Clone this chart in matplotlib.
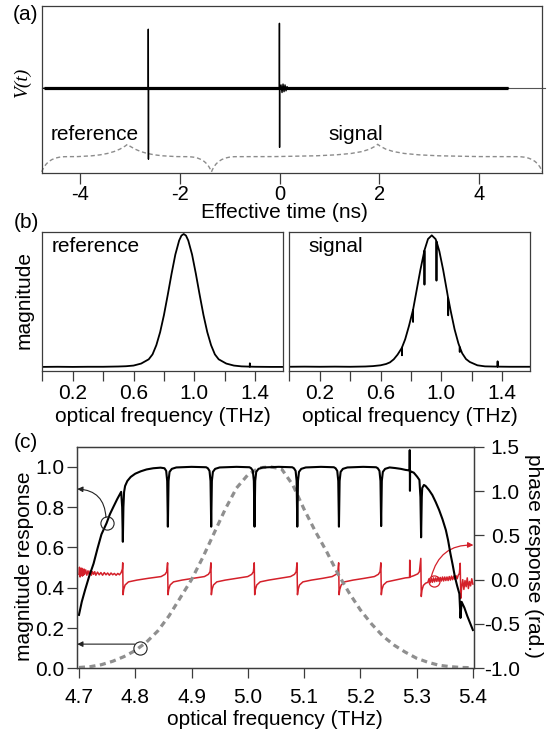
import matplotlib
matplotlib.use('Agg')
import matplotlib.pyplot as plt
from matplotlib.path import Path
from matplotlib.patches import PathPatch

plt.rcParams['font.family'] = ['Liberation Sans', 'DejaVu Sans']
plt.rcParams['axes.unicode_minus'] = False

# ---------------- data ----------------
# (a) time trace: (time ns, V arb.)
trace_pts = [(-4.73, 0.0), (-2.634, 0.0), (-2.632, 0.70), (-2.629, -0.84), (-2.627, 0.0),
             (-0.004, 0.0), (-0.002, 0.77), (0.001, -0.70), (0.003, 0.0), (0.03, 0.04),
             (0.05, -0.05), (0.07, 0.05), (0.09, -0.04), (0.11, 0.04), (0.13, -0.03),
             (0.15, 0.02), (0.17, 0.0), (4.59, 0.0)]
time_ticks = [-4, -2, 0, 2, 4]
time_ticklabels = ['-4', '-2', '0', '2', '4']
brace_names = ['reference', 'signal']
brace_start = [-4.77, -1.365]
brace_end = [-1.365, 5.27]
brace_apex = [-3.05, 1.97]

# (b) spectra: (THz, magnitude)
ref_pts = [(0.0, 0.003), (0.1, 0.004), (0.2, 0.003), (0.3, 0.004), (0.4, 0.004), (0.5, 0.006),
           (0.55, 0.008), (0.6, 0.013), (0.65, 0.028), (0.7, 0.06), (0.725, 0.097), (0.75, 0.166),
           (0.775, 0.264), (0.8, 0.392), (0.825, 0.543), (0.85, 0.701), (0.875, 0.846), (0.9, 0.951),
           (0.915, 0.988), (0.93, 1.0), (0.945, 0.988), (0.96, 0.951), (0.985, 0.846), (1.01, 0.701),
           (1.035, 0.543), (1.06, 0.392), (1.085, 0.264), (1.11, 0.166), (1.135, 0.097), (1.16, 0.06),
           (1.21, 0.028), (1.26, 0.013), (1.31, 0.007), (1.3645, 0.005), (1.365, 0.03), (1.3655, 0.005),
           (1.4, 0.004), (1.5, 0.003), (1.585, 0.003)]
sig_pts = [(0.0, 0.004), (0.1, 0.005), (0.2, 0.004), (0.3, 0.005), (0.4, 0.004), (0.5, 0.006),
           (0.55, 0.009), (0.6, 0.015), (0.637, 0.025), (0.662, 0.037), (0.687, 0.06), (0.712, 0.095),
           (0.737, 0.14), (0.7405, 0.147), (0.741, 0.09), (0.7415, 0.15), (0.762, 0.21), (0.787, 0.31),
           (0.8135, 0.43), (0.814, 0.34), (0.8145, 0.435), (0.837, 0.575), (0.862, 0.73),
           (0.8885, 0.875), (0.889, 0.62), (0.8895, 0.88), (0.912, 0.962), (0.937, 0.99),
           (0.962, 0.962), (0.9675, 0.945), (0.968, 0.65), (0.9685, 0.943), (0.987, 0.87),
           (1.012, 0.73), (1.037, 0.57), (1.0445, 0.52), (1.045, 0.39), (1.0455, 0.517),
           (1.062, 0.42), (1.087, 0.285), (1.112, 0.18), (1.1205, 0.153), (1.121, 0.115),
           (1.1215, 0.15), (1.137, 0.105), (1.162, 0.062), (1.187, 0.04), (1.237, 0.015),
           (1.287, 0.007), (1.3695, 0.005), (1.370, 0.045), (1.3705, 0.005), (1.45, 0.004),
           (1.585, 0.004)]
freq_ticks_b = [0.0, 0.2, 0.4, 0.6, 0.8, 1.0, 1.2, 1.4]
freq_ticklabels_b = ['', '0.2', '', '0.6', '', '1.0', '', '1.4']

# (c) magnitude response (THz, left axis)
mag_pts = [(4.700, 0.265), (4.705, 0.33), (4.711, 0.39), (4.718, 0.455), (4.726, 0.52), (4.733, 0.595),
           (4.740, 0.665), (4.749, 0.72), (4.755, 0.765), (4.761, 0.80), (4.768, 0.84), (4.775, 0.876),
           (4.7768, 0.80), (4.778, 0.628), (4.7790, 0.80), (4.7802, 0.875), (4.782, 0.905), (4.786, 0.93),
           (4.792, 0.95), (4.800, 0.966), (4.810, 0.978), (4.820, 0.987), (4.832, 0.993), (4.845, 0.996),
           (4.852, 0.993), (4.855, 0.98), (4.8568, 0.93), (4.858, 0.703), (4.8592, 0.93), (4.861, 0.975),
           (4.865, 0.99), (4.873, 0.997), (4.900, 1.0), (4.926, 0.998),
           (4.929, 0.993), (4.932, 0.98), (4.9338, 0.93), (4.935, 0.703), (4.9362, 0.93), (4.938, 0.975),
           (4.942, 0.99), (4.950, 0.997), (4.980, 1.0), (5.003, 0.998),
           (5.006, 0.993), (5.009, 0.98), (5.0108, 0.93), (5.012, 0.703), (5.0132, 0.93), (5.015, 0.975),
           (5.019, 0.99), (5.027, 0.997), (5.055, 1.0), (5.079, 0.998),
           (5.082, 0.993), (5.085, 0.98), (5.0868, 0.93), (5.088, 0.703), (5.0892, 0.93), (5.091, 0.975),
           (5.095, 0.99), (5.103, 0.997), (5.130, 1.0), (5.153, 0.998),
           (5.156, 0.993), (5.159, 0.98), (5.1608, 0.93), (5.162, 0.703), (5.1632, 0.93), (5.165, 0.975),
           (5.169, 0.99), (5.177, 0.997), (5.205, 1.0), (5.228, 0.998),
           (5.231, 0.993), (5.234, 0.98), (5.2358, 0.93), (5.237, 0.706), (5.2382, 0.93), (5.240, 0.975),
           (5.244, 0.99), (5.252, 0.997), (5.262, 0.994), (5.272, 0.99), (5.280, 0.985), (5.2875, 0.982),
           (5.2878, 1.083), (5.2882, 0.881), (5.2885, 0.98), (5.2890, 0.978),
           (5.295, 0.971), (5.301, 0.951), (5.305, 0.935), (5.3068, 0.85), (5.308, 0.65), (5.3092, 0.85),
           (5.310, 0.895), (5.313, 0.91), (5.316, 0.905), (5.322, 0.885), (5.328, 0.86), (5.334, 0.825),
           (5.340, 0.786), (5.346, 0.74), (5.352, 0.686), (5.356, 0.635), (5.360, 0.571), (5.364, 0.515),
           (5.368, 0.455), (5.372, 0.41), (5.376, 0.37), (5.378, 0.25), (5.380, 0.33), (5.385, 0.30),
           (5.390, 0.26), (5.395, 0.225), (5.400, 0.19)]
# (c) pulse spectrum envelope (dashed, left axis)
envelope_pts = [(4.70, 0.004), (4.72, 0.008), (4.74, 0.018), (4.76, 0.035), (4.78, 0.058), (4.80, 0.088),
                (4.82, 0.13), (4.84, 0.185), (4.86, 0.26), (4.88, 0.35), (4.90, 0.44), (4.92, 0.55),
                (4.94, 0.67), (4.96, 0.79), (4.98, 0.895), (5.00, 0.96), (5.02, 0.995), (5.04, 1.0),
                (5.06, 0.99), (5.08, 0.91), (5.10, 0.79), (5.12, 0.68), (5.14, 0.58), (5.16, 0.47),
                (5.18, 0.375), (5.20, 0.29), (5.22, 0.22), (5.24, 0.16), (5.26, 0.115), (5.28, 0.08),
                (5.30, 0.05), (5.32, 0.03), (5.34, 0.015), (5.36, 0.008), (5.38, 0.004), (5.40, 0.003)]
# (c) phase response (THz, rad., right axis)
phase_pts = [(4.700, 0.06), (4.701, 0.14), (4.702, 0.03), (4.703, 0.12), (4.704, 0.05), (4.705, 0.13),
             (4.706, 0.04), (4.707, 0.11), (4.708, 0.05), (4.709, 0.12), (4.710, 0.06), (4.712, 0.11),
             (4.714, 0.05), (4.716, 0.10), (4.718, 0.06), (4.720, 0.10), (4.722, 0.05), (4.724, 0.09),
             (4.726, 0.06), (4.728, 0.09), (4.730, 0.05), (4.733, 0.085), (4.736, 0.055), (4.739, 0.08),
             (4.742, 0.05), (4.745, 0.08), (4.748, 0.055), (4.751, 0.075), (4.754, 0.05), (4.757, 0.075),
             (4.760, 0.055), (4.763, 0.07), (4.766, 0.05), (4.769, 0.07), (4.772, 0.055), (4.775, 0.08),
             (4.7772, 0.12), (4.7778, 0.19), (4.7784, -0.17), (4.7795, -0.11), (4.782, -0.06),
             (4.788, -0.025), (4.803, -0.005), (4.823, 0.015), (4.846, 0.035), (4.853, 0.06), (4.856, 0.09),
             (4.8575, 0.19), (4.8583, -0.17), (4.8595, -0.11), (4.862, -0.06), (4.868, -0.025),
             (4.883, -0.005), (4.903, 0.015), (4.923, 0.035), (4.930, 0.06), (4.933, 0.09),
             (4.9345, 0.19), (4.9353, -0.17), (4.9365, -0.11), (4.939, -0.06), (4.945, -0.025),
             (4.960, -0.005), (4.980, 0.015), (5.000, 0.035), (5.007, 0.06), (5.010, 0.09),
             (5.0115, 0.19), (5.0123, -0.17), (5.0135, -0.11), (5.016, -0.06), (5.022, -0.025),
             (5.037, -0.005), (5.057, 0.015), (5.076, 0.035), (5.083, 0.06), (5.086, 0.09),
             (5.0875, 0.19), (5.0883, -0.17), (5.0895, -0.11), (5.092, -0.06), (5.098, -0.025),
             (5.113, -0.005), (5.133, 0.015), (5.150, 0.035), (5.157, 0.06), (5.160, 0.09),
             (5.1615, 0.19), (5.1623, -0.17), (5.1635, -0.11), (5.166, -0.06), (5.172, -0.025),
             (5.187, -0.005), (5.207, 0.015), (5.225, 0.035), (5.232, 0.06), (5.235, 0.09),
             (5.2365, 0.19), (5.2373, -0.17), (5.2385, -0.11), (5.241, -0.06), (5.247, -0.025),
             (5.262, -0.005), (5.280, 0.02), (5.2875, 0.025), (5.2878, 0.22), (5.2882, 0.03),
             (5.295, 0.045), (5.302, 0.065), (5.305, 0.09),
             (5.3075, 0.24), (5.3083, -0.19), (5.3095, -0.12), (5.312, -0.065), (5.316, -0.04),
             (5.320, -0.03), (5.322, 0.01), (5.324, -0.035), (5.326, 0.015), (5.328, -0.03),
             (5.330, 0.02), (5.332, -0.025), (5.334, 0.02), (5.336, -0.02), (5.338, 0.025),
             (5.340, -0.02), (5.342, 0.025), (5.344, -0.015), (5.346, 0.03), (5.348, -0.015),
             (5.350, 0.03), (5.352, -0.01), (5.354, 0.03), (5.356, -0.01), (5.358, 0.035),
             (5.360, -0.005), (5.362, 0.04), (5.364, 0.0), (5.366, 0.04), (5.368, 0.005),
             (5.370, 0.045), (5.372, 0.01), (5.374, 0.05), (5.376, 0.07),
             (5.3775, 0.185), (5.3785, -0.21), (5.380, -0.09), (5.382, 0.0), (5.384, -0.11),
             (5.386, -0.01), (5.388, -0.08), (5.390, 0.02), (5.392, -0.10), (5.394, -0.02),
             (5.396, -0.07), (5.398, 0.01), (5.400, -0.05)]
freq_ticks_c = [4.7, 4.8, 4.9, 5.0, 5.1, 5.2, 5.3, 5.4]
mag_ticks = [0.0, 0.2, 0.4, 0.6, 0.8, 1.0]
phase_ticks = [-1.0, -0.5, 0.0, 0.5, 1.0, 1.5]

# ---------------- figure ----------------
W, H = 549, 733
fig = plt.figure(figsize=(W / 100, H / 100), dpi=100)
FS = 15
SP = '#3c3c3c'
RED = '#d4202a'


def box(l, t, r, b):
    return [l / W, 1 - b / H, (r - l) / W, (b - t) / H]


def ftxt(x, y, s, **kw):
    kw.setdefault('fontsize', FS)
    fig.text(x / W, 1 - y / H, s, **kw)


def style(ax):
    for sp in ax.spines.values():
        sp.set_color(SP)
        sp.set_linewidth(0.9)


def brace(ax, x0, x1, xa, y0, yf, yp):
    verts = [(x0, y0),
             (x0 + 0.08, yf - 0.06), (x0 + 0.22, yf), (x0 + 0.5, yf),
             (xa - 0.6, yf), (xa - 0.25, yf + 0.03), (xa, yp),
             (xa + 0.25, yf + 0.03), (xa + 0.6, yf), (x1 - 0.5, yf),
             (x1 - 0.22, yf), (x1 - 0.08, yf - 0.06), (x1, y0)]
    codes = [Path.MOVETO] + [Path.CURVE4] * 12
    ax.add_patch(PathPatch(Path(verts, codes), fill=False, edgecolor='#8c8c8c',
                           lw=1.0, linestyle=(0, (3, 2)), clip_on=False))


# ---- (a)
axa = fig.add_axes(box(41.7, 6, 542.3, 172.7))
style(axa)
tt = [p[0] for p in trace_pts]
tv = [p[1] for p in trace_pts]
axa.axhline(0, color='#555555', lw=0.8, xmax=1.005, clip_on=False)
axa.plot([tt[0], tt[-1]], [0, 0], color='k', lw=2.3, solid_capstyle='butt')
axa.plot(tt, tv, color='k', lw=1.0)
axa.set_xlim(-4.77, 5.27)
axa.set_ylim(-1.0, 0.975)
axa.set_yticks([])
axa.set_xticks(time_ticks)
axa.set_xticklabels(time_ticklabels)
axa.tick_params(axis='x', direction='out', length=8, width=0.9, color=SP, pad=1, labelsize=14.5)
for name, x0, x1, xa in zip(brace_names, brace_start, brace_end, brace_apex):
    brace(axa, x0, x1, xa, -0.99, -0.81, -0.664)
axa.text(-4.586, -0.613, brace_names[0], fontsize=FS, ha='left', va='baseline')
axa.text(0.98, -0.613, brace_names[1], fontsize=FS, ha='left', va='baseline')

ftxt(26, 15, '(a)', ha='center', va='center')
ftxt(22, 82, 'V(t)', rotation=90, ha='center', va='center',
     family=['Liberation Serif', 'DejaVu Serif'], style='italic', fontsize=14)
ftxt(284.4, 218.5, 'Effective time (ns)', ha='center', va='baseline')

# ---- (b)
axb1 = fig.add_axes(box(42.3, 232, 283.3, 370.5))
axb2 = fig.add_axes(box(289.3, 232, 530.3, 370.5))
for ax, pts, name, lx in [(axb1, ref_pts, 'reference', 0.059), (axb2, sig_pts, 'signal', 0.127)]:
    style(ax)
    ax.plot([p[0] for p in pts], [p[1] for p in pts], color='k', lw=1.3)
    ax.set_xlim(0, 1.585)
    ax.set_ylim(-0.024, 1.015)
    ax.set_yticks([])
    ax.set_xticks(freq_ticks_b)
    ax.set_xticklabels(freq_ticklabels_b)
    ax.tick_params(axis='x', direction='out', length=7, width=0.9, color=SP, pad=3, labelsize=FS)
    ax.text(lx, 0.865, name, fontsize=FS, ha='left', va='baseline')
ftxt(26, 223, '(b)', ha='center', va='center')
ftxt(24.5, 300, 'magnitude', rotation=90, ha='center', va='center')
ftxt(162.8, 422, 'optical frequency (THz)', ha='center', va='baseline')
ftxt(409.8, 422, 'optical frequency (THz)', ha='center', va='baseline')

# ---- (c)
axc = fig.add_axes(box(76.7, 446.7, 474, 668.3))
axp = axc.twinx()
axc.set_zorder(axp.get_zorder() + 1)
axc.patch.set_visible(False)
style(axc)
style(axp)
axc.plot([p[0] for p in envelope_pts], [p[1] for p in envelope_pts], color='#8f8f8f', lw=2.3,
         linestyle=(0, (1.9, 1.4)), dash_capstyle='butt')
axc.plot([p[0] for p in mag_pts], [p[1] for p in mag_pts], color='k', lw=1.5)
axp.plot([p[0] for p in phase_pts], [p[1] for p in phase_pts], color=RED, lw=1.1)
axc.set_xlim(4.696, 5.402)
axc.set_ylim(0.0, 1.1)
axp.set_ylim(-1.0, 1.5)
axc.set_xticks(freq_ticks_c)
axc.set_xticklabels(['%.1f' % v for v in freq_ticks_c])
axc.set_yticks(mag_ticks)
axc.set_yticklabels(['%.1f' % v for v in mag_ticks])
axp.set_yticks(phase_ticks)
axp.set_yticklabels(['%.1f' % v for v in phase_ticks])
axc.tick_params(axis='x', direction='out', length=7, width=0.9, color=SP, pad=7, labelsize=FS)
axc.tick_params(axis='y', direction='out', length=7, width=0.9, color=SP, pad=2, labelsize=FS)
axp.tick_params(axis='y', direction='out', length=7, width=0.9, color=SP, pad=26, labelsize=FS)
for lab in axp.get_yticklabels():
    lab.set_horizontalalignment('right')

# annotations
axc.plot([4.749, 4.809], [0.72, 0.10], linestyle='none', marker='o', ms=9.5, mfc='none',
         mec='#222222', mew=0.8)
axc.annotate('', xy=(4.697, 0.89), xytext=(4.748, 0.748),
             arrowprops=dict(arrowstyle='-|>', color='#222222', lw=0.8, mutation_scale=8,
                             connectionstyle='arc3,rad=0.45', shrinkA=0, shrinkB=0))
axc.annotate('', xy=(4.697, 0.12), xytext=(4.799, 0.12),
             arrowprops=dict(arrowstyle='-|>', color='#222222', lw=0.8, mutation_scale=8,
                             shrinkA=0, shrinkB=0))
axp.plot([5.331], [-0.02], linestyle='none', marker='o', ms=8, mfc='none', mec=RED, mew=0.9)
axp.annotate('', xy=(5.401, 0.39), xytext=(5.326, 0.03),
             arrowprops=dict(arrowstyle='-|>', color=RED, lw=0.9, mutation_scale=8,
                             connectionstyle='arc3,rad=-0.4', shrinkA=0, shrinkB=0))

ftxt(26, 442, '(c)', ha='center', va='center')
ftxt(24.5, 566, 'magnitude response', rotation=90, ha='center', va='center')
ftxt(534, 556, 'phase response (rad.)', rotation=270, ha='center', va='center')
ftxt(275.3, 725, 'optical frequency (THz)', ha='center', va='baseline')

fig.savefig('out.png', dpi=100)
